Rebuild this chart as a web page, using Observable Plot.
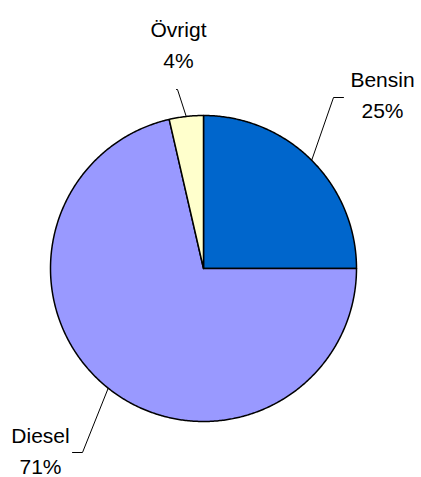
<!DOCTYPE html>
<html><head><meta charset="utf-8">
<script src="https://cdn.jsdelivr.net/npm/d3@7"></script>
<script src="https://cdn.jsdelivr.net/npm/@observablehq/plot@0.6"></script>
<style>html,body{margin:0;padding:0;background:#fff}</style>
</head><body><div id="chart"></div>
<script>
// Data
const names = ["Bensin", "Diesel", "Övrigt"];
const shares = [25, 71.4, 3.6];
const labels = ["25%", "71%", "4%"];
const colors = ["#0066CC", "#9999FF", "#FFFFCC"];

// Layout (pixels)
const W = 421, H = 477, cx = 203, cy = 268, R = 153;
// label anchor (last-line baseline) and leader elbow, in pixel offsets from center
const labelPos = [
  {tx: 179, ty: 151, ex: 130, ey: 171, hx: 140},
  {tx: -163, ty: -205, ex: -121, ey: -184, hx: -131},
  {tx: -25, ty: 201, ex: -26, ey: 179, hx: -27}
];

const total = d3.sum(shares);
const pie = [];
let acc = 0;
names.forEach((n, i) => {
  const a0 = acc / total * 2 * Math.PI;
  acc += shares[i];
  const a1 = acc / total * 2 * Math.PI;
  pie.push({name: n, a0, a1, mid: (a0 + a1) / 2, i});
});

// polygon points per slice (unit radius, y up), angle clockwise from top
const slicePts = [];
pie.forEach(s => {
  slicePts.push({name: s.name, x: 0, y: 0});
  const n = Math.max(2, Math.ceil((s.a1 - s.a0) / (Math.PI / 360)));
  for (let k = 0; k <= n; k++) {
    const a = s.a0 + (s.a1 - s.a0) * k / n;
    slicePts.push({name: s.name, x: Math.sin(a), y: Math.cos(a)});
  }
});

const leaderPts = [];
pie.forEach((s, i) => {
  const p = labelPos[i];
  leaderPts.push({name: s.name, x: Math.sin(s.mid), y: Math.cos(s.mid)});
  leaderPts.push({name: s.name, x: p.ex / R, y: p.ey / R});
  leaderPts.push({name: s.name, x: p.hx / R, y: p.ey / R});
});

const textData = pie.map((s, i) => ({
  text: names[i] + "\n" + labels[i],
  x: labelPos[i].tx / R,
  y: labelPos[i].ty / R
}));

const marks = [];
pie.forEach((s, i) => {
  marks.push(Plot.line(slicePts.filter(d => d.name === s.name), {
    x: "x", y: "y", curve: "linear-closed",
    fill: colors[i], stroke: "#000", strokeWidth: 1.5, strokeLinejoin: "round"
  }));
});
marks.push(Plot.line(leaderPts, {x: "x", y: "y", z: "name", stroke: "#000", strokeWidth: 1}));
marks.push(Plot.text(textData, {
  x: "x", y: "y", text: "text", lineAnchor: "bottom", textAnchor: "middle",
  lineHeight: 1.43, fontSize: 21, fill: "#000"
}));

const chart = Plot.plot({
  width: W, height: H, margin: 0,
  style: {fontFamily: "'Liberation Sans', Arial, sans-serif", background: "#fff"},
  x: {domain: [-cx / R, (W - cx) / R], axis: null},
  y: {domain: [-(H - cy) / R, cy / R], axis: null},
  marks
});
document.getElementById("chart").appendChild(chart);
</script></body></html>
